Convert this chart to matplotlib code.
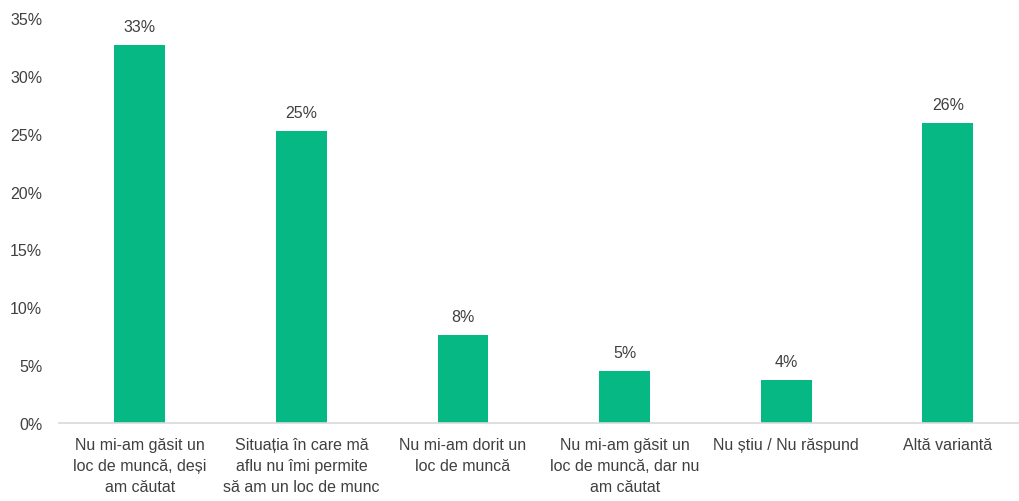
import matplotlib
matplotlib.use("Agg")
import matplotlib.pyplot as plt
from matplotlib.ticker import FuncFormatter

plt.rcParams['font.family'] = ['Liberation Sans', 'DejaVu Sans']

categories = [
    "Nu mi-am găsit un\nloc de muncă, deși\nam căutat",
    "Situația în care mă\naflu nu îmi permite\nsă am un loc de munc",
    "Nu mi-am dorit un\nloc de muncă",
    "Nu mi-am găsit un\nloc de muncă, dar nu\nam căutat",
    "Nu știu / Nu răspund",
    "Altă variantă",
]
values = [32.7, 25.2, 7.6, 4.5, 3.7, 25.9]
labels = ["33%", "25%", "8%", "5%", "4%", "26%"]

BAR = "#05B884"
TXT = "#404040"

fig = plt.figure(figsize=(10.19, 5.02), dpi=100)
ax = fig.add_axes([59/1019, 78/502, 1 - 59/1019, (424-19)/502])

x = range(len(values))
bars = ax.bar(x, values, width=0.315, color=BAR)
for xi, v, lab in zip(x, values, labels):
    ax.annotate(lab, (xi, v), xytext=(0, 8), textcoords="offset points",
                ha="center", va="bottom", fontsize=11.5, color=TXT)

ax.set_xlim(-0.5, 5.44)
ax.set_ylim(0, 35)
ax.set_yticks(range(0, 36, 5))
ax.yaxis.set_major_formatter(FuncFormatter(lambda v, p: "%d%%" % v))
ax.set_xticks(list(x))
ax.set_xticklabels(categories, fontsize=11.5, color=TXT, linespacing=1.5)
ax.tick_params(axis="y", length=0, pad=12, labelsize=11.5, labelcolor=TXT)
ax.tick_params(axis="x", length=0, pad=10)

for s in ["top", "right", "left"]:
    ax.spines[s].set_visible(False)
ax.spines["bottom"].set_color("#D9D9D9")
ax.spines["bottom"].set_linewidth(1.2)

fig.savefig("out.png", dpi=100)
